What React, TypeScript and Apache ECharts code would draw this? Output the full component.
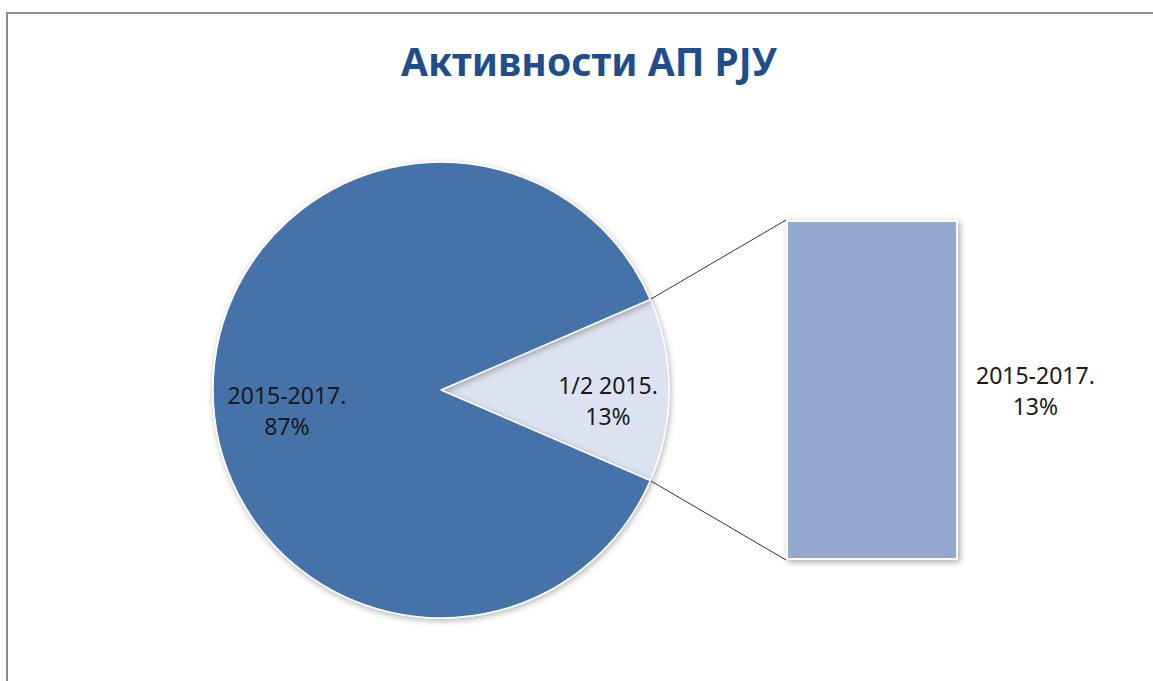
import React, { useEffect, useRef } from "react";
import * as echarts from "echarts";

const titleText = "Активности АП РЈУ";
const pieNames = ["1/2 2015.", "2015-2017."];
const pieValues = [13, 87];
const barNames = ["2015-2017."];
const barValues = [13];

const PIE_CX = 441;
const PIE_CY = 390;
const PIE_R = 228;
const GRID = { left: 786, top: 220, width: 172, height: 340 };

export default function App() {
  const ref = useRef<HTMLDivElement>(null);
  useEffect(() => {
    document.body.style.margin = "0";
    const chart = echarts.init(ref.current!, null, { renderer: "svg" });
    const total = pieValues.reduce((a, b) => a + b, 0);
    const halfAngle = (pieValues[0] / total) * 180; // degrees
    const rad = (halfAngle * Math.PI) / 180;
    const ex = PIE_CX + PIE_R * Math.cos(rad);
    const eyTop = PIE_CY - PIE_R * Math.sin(rad);
    const eyBot = PIE_CY + PIE_R * Math.sin(rad);
    const font = "'Noto Sans', 'DejaVu Sans', sans-serif";
    chart.setOption({
      animation: false,
      backgroundColor: "#ffffff",
      title: {
        text: titleText,
        left: 584,
        textAlign: "center",
        top: 36,
        textStyle: {
          fontFamily: font,
          fontWeight: "bold",
          fontSize: 39,
          color: "#1F4E8A",
        },
      },
      grid: { ...GRID, containLabel: false },
      xAxis: { type: "category", data: barNames, show: false },
      yAxis: { type: "value", min: 0, max: barValues[0], show: false },
      series: [
        {
          type: "pie",
          center: [PIE_CX, PIE_CY],
          radius: PIE_R,
          startAngle: halfAngle,
          clockwise: true,
          data: pieNames.map((n, i) => ({ name: n, value: pieValues[i] })),
          color: ["#DCE2EF", "#4572A8"],
          itemStyle: {
            borderColor: "#ffffff",
            borderWidth: 1.5,
            shadowBlur: 6,
            shadowColor: "rgba(0,0,0,0.3)",
            shadowOffsetX: 1,
            shadowOffsetY: 2,
          },
          label: {
            show: true,
            position: "inside",
            formatter: (p: any) => `${p.name}\n${p.value}%`,
            fontFamily: font,
            fontSize: 23,
            lineHeight: 31,
            color: "#1a1a1a",
            align: "center",
          },
          labelLine: { show: false },
          labelLayout: (p: any) =>
            p.dataIndex === 0 ? { dx: 50, dy: 10 } : { dx: -37, dy: 20 },
          emphasis: { disabled: true },
        },
        {
          type: "bar",
          data: barValues,
          barWidth: "100%",
          itemStyle: {
            color: "#95A9D0",
            borderColor: "#ffffff",
            borderWidth: 2,
            shadowBlur: 6,
            shadowColor: "rgba(0,0,0,0.35)",
            shadowOffsetX: 2,
            shadowOffsetY: 2,
          },
          label: {
            show: true,
            position: ["145%", "50%"],
            align: "center",
            verticalAlign: "middle",
            formatter: (p: any) => `${p.name}\n${p.value}%`,
            fontFamily: font,
            fontSize: 23,
            lineHeight: 31,
            color: "#1a1a1a",
          },
          emphasis: { disabled: true },
        },
      ],
      graphic: [
        {
          type: "rect",
          shape: { x: 7, y: 13, width: 1300, height: 1000 },
          style: { fill: "none", stroke: "#8c8c8c", lineWidth: 2 },
          silent: true,
        },
        {
          type: "line",
          shape: { x1: ex, y1: eyTop, x2: GRID.left, y2: GRID.top },
          style: { stroke: "#333333", lineWidth: 1 },
          silent: true,
        },
        {
          type: "line",
          shape: { x1: ex, y1: eyBot, x2: GRID.left, y2: GRID.top + GRID.height },
          style: { stroke: "#333333", lineWidth: 1 },
          silent: true,
        },
      ],
    });
    return () => chart.dispose();
  }, []);
  return <div ref={ref} style={{ width: 1153, height: 681 }} />;
}
